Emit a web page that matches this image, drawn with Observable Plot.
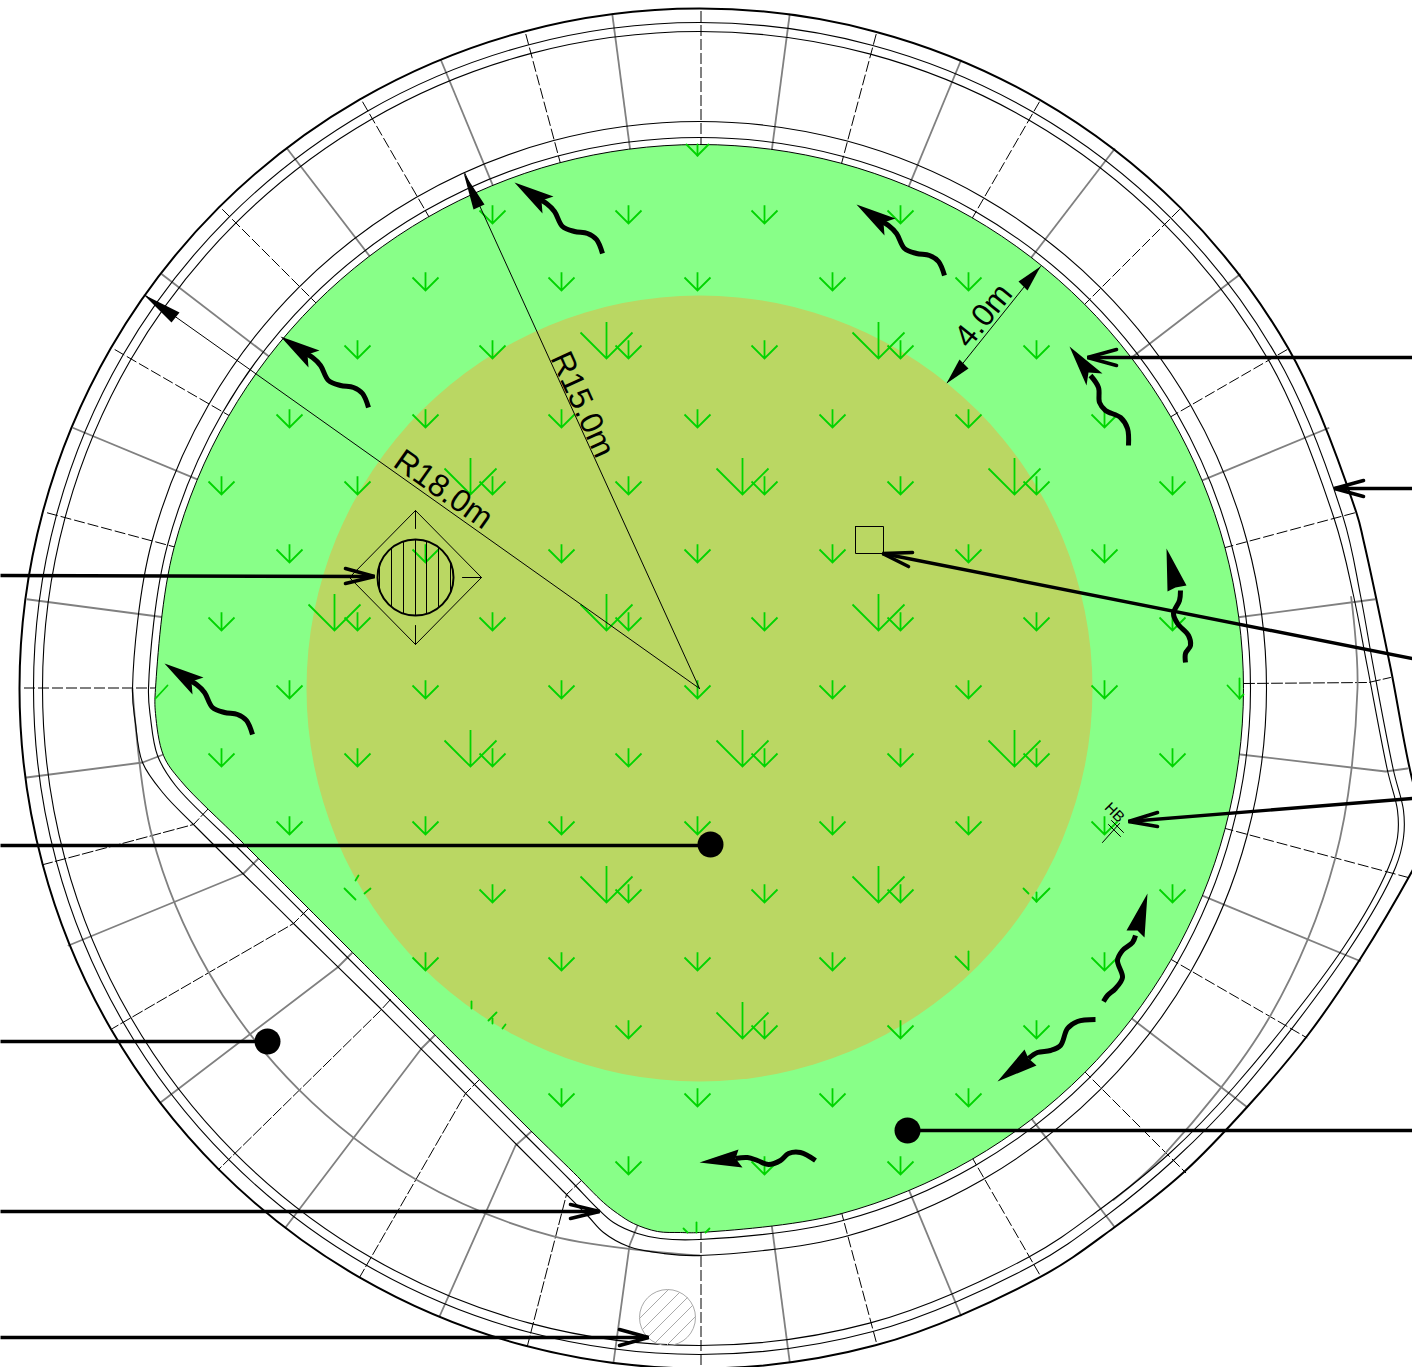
<!DOCTYPE html>
<html>
<head>
<meta charset="utf-8">
<script src="https://cdn.jsdelivr.net/npm/d3@7"></script>
<script src="https://cdn.jsdelivr.net/npm/@observablehq/plot@0.6"></script>
<style>html,body{margin:0;padding:0;background:#fff;overflow:hidden}svg{display:block}</style>
</head>
<body>
<div id="chart"></div>
<script>
// Plan centre, in sheet units
const centre = [699, 688];
const spokeCentre = [700.5, 687.5];

// Bearings (degrees clockwise from east) and radii of the rings
const fullTurn = [90,75,60,45,30,15,0,-15,-30,-45,-60,-75,-90,-105,-120,-135,-150,-165,-180];
const outerTurn = [52.5,60,75,90,105,120,135,150,165,180,195,210,225,240,255,270,285,300,315,330,345];
const grayLeftTurn = [180,165,150,135,120,105,90];
const grayRightTurn = [-8,0,15,30,45,51];
const radiusGreen = 544, radiusOlive = 393, radiusRingA = 551, radiusRingB = 567;
const radiusWallA = 657, radiusWallB = 666, radiusOuter = 680, radiusGrayRight = 658, radiusSpokeStart = 540;

// Lower-left chamfer and right-hand bulge, read from the plan
const greenChamfer = [[155,713],[163,755],[180,780],[243,843],[352,952],[397,997],[530,1130],[573,1172],[603,1202],[617,1213],[633,1223],[657,1231],[680,1232]];
const ringAChamfer = [[150,717],[157,755],[175,785],[238,848],[347,957],[392,1002],[525,1135],[570,1180],[598,1209],[613,1222],[637,1233],[660,1238]];
const ringBChamfer = [[135,723],[142,762],[163,793],[193,824],[293,923],[380,1008],[517,1145],[560,1188],[587,1215],[603,1232],[628,1246],[663,1253]];
const outerBulge = [[1363,540],[1390,667],[1412,780],[1430,835],[1412,870],[1360,958],[1307,1035],[1248,1105],[1183,1172]];
const wallABulge = [[1353,595],[1367,667],[1387,770],[1397,810],[1397,837],[1388,867],[1343,947],[1233,1087],[1170,1152]];
const wallBBulge = [[1360,595],[1373,667],[1393,770],[1403,810],[1403,837],[1395,867],[1348,950],[1237,1095],[1175,1158]];

// Spokes: bearing and outer radius; inner end under the green edge
const solidBearings = [187.5,202.5,217.5,232.5,247.5,262.5,277.5,292.5,307.5,322.5,337.5,352.5,82.5,67.5,52.5,37.5,22.5];
const solidOuters =   [680,680,680,680,680,680,680,680,680,680,680,680,680,680,680,689,714];
const dashedBearings = [180,195,210,225,240,255,270,285,300,315,330,345,90,75,60,45,30,15];
const dashedOuters =   [680,680,680,680,680,680,680,680,680,680,680,680,680,680,680,686,700,733];
const solidBent = [
  [[1240,754],[1385,771],[1407,768]],
  [[637,1225],[629,1245],[613,1362]],
  [[532,1130],[515,1145],[439,1316]],
  [[436,1033],[421,1048],[285,1227]],
  [[352,952],[337,967],[160,1102]],
  [[258,858],[243,873],[68,945]],
  [[163,754],[142,762],[26,777]]
];
const dashedBent = [
  [[1243,683],[1368,682],[1390,677]],
  [[582,1179],[566,1194],[527,1345]],
  [[480,1078],[465,1093],[359,1277]],
  [[390,999],[380,1010],[218,1169]],
  [[308,908],[293,923],[112,1028]],
  [[208,808],[193,824],[43,864]]
];

// Planting marks: tips of the small and large sprouts
const smallRows = [
  [223,[492,628,764,900]],
  [290,[425,561,697,832,968]],
  [358,[357,492,628,764,900,1036]],
  [427,[289,425,561,697,832,968,1104]],
  [494,[221,357,492,628,764,900,1036,1172]],
  [562,[289,425,561,697,832,968,1104]],
  [630,[221,357,492,628,764,900,1036,1172]],
  [698,[289,425,561,697,832,968,1104]],
  [766,[221,357,492,628,764,900,1036,1172]],
  [834,[289,425,561,697,832,968,1104]],
  [902,[492,628,764,900,1172]],
  [970,[425,561,697,832,1104]],
  [1038,[628,764,900,1036]],
  [1106,[561,697,832,968]],
  [1174,[628,764,900]]
];
const largeTips = [[606,358],[878,358],[470,494],[742,494],[1014,494],[334,630],[606,630],[878,630],[470,766],[742,766],[1014,766],[606,902],[878,902],[742,1038]];
const sproutPieces = [
  [[697,144],[697,155]],[[686,144],[697,155]],[[708,144],[697,155]],
  [[155,698],[167,685]],
  [[1239,678],[1239,698]],[[1227,685],[1239,698]],[[1239,698],[1243,694]],
  [[696,1222],[696,1232]],[[683,1228],[687,1232]],[[709,1228],[705,1232]],
  [[358,875],[355,880]],[[344,888],[355,899]],[[370,888],[364,893]],
  [[471,1001],[471,1008]],[[496,1012],[488,1020]],[[492,1018],[492,1023]],[[505,1024],[502,1028]],
  [[1036,892],[1036,901]],[[1049,888],[1036,901]],[[1023,888],[1028,893]],[[1032,897],[1036,901]],
  [[968,951],[968,969]],[[955,956],[968,969]]
];

// Flow arrows: shaft and head
const flowShafts = [
  [[368,407],[362,393],[353,387],[340,385],[328,380],[320,365],[312,357],[303,352]],
  [[602,253],[596,239],[587,233],[574,231],[562,226],[554,211],[546,203],[537,198]],
  [[944,275],[938,261],[929,255],[916,253],[904,248],[896,233],[888,225],[879,220]],
  [[252,734],[246,720],[237,714],[224,712],[212,707],[204,692],[196,684],[187,679]],
  [[1128,445],[1127,428],[1120,417],[1105,410],[1099,402],[1098,387],[1090,375]],
  [[1185,662],[1185,653],[1190,645],[1188,635],[1177,623],[1173,613],[1179,600],[1180,590]],
  [[1103,1001],[1107,995],[1115,988],[1122,977],[1117,960],[1122,950],[1132,942],[1135,935]],
  [[1095,1019],[1077,1021],[1067,1028],[1060,1045],[1050,1050],[1037,1052],[1028,1058]],
  [[815,1160],[800,1152],[788,1153],[780,1160],[768,1164],[757,1160],[747,1157],[735,1158]]
];
const flowHeads = [
  [[280,336],[319,350],[307,354],[308,367]],
  [[514,182],[553,196],[541,200],[542,213]],
  [[856,204],[895,218],[883,222],[884,235]],
  [[164,663],[203,677],[191,681],[192,694]],
  [[1069,346],[1102,373],[1088,372],[1086,385]],
  [[1166,548],[1186,585],[1175,587],[1167,591]],
  [[1147,893],[1126,930],[1137,930],[1144,937]],
  [[997,1081],[1024,1049],[1028,1058],[1036,1065]],
  [[699,1162],[738,1149],[735,1158],[742,1167]]
];

// Leaders
const leaders = [
  [[1412,357],[1087,357]],
  [[1412,488],[1334,488]],
  [[1412,658],[882,553]],
  [[1412,798],[1128,821]],
  [[1412,1130],[907,1130]],
  [[0,575],[374,576]],
  [[0,845],[710,845]],
  [[0,1041],[267,1041]],
  [[0,1211],[599,1211]],
  [[0,1337],[648,1337]]
];
const leaderHeads = [
  [[1116,349],[1087,357],[1116,365]],
  [[1363,480],[1334,488],[1363,496]],
  [[912,552],[882,553],[908,566]],
  [[1157,812],[1128,821],[1157,826]],
  [[345,568],[374,576],[345,583]],
  [[570,1204],[599,1211],[570,1218]],
  [[619,1329],[648,1337],[619,1345]]
];
const leaderDots = [[907,1130],[710,844],[267,1041]];

// Dimension lines and their heads
const dimensionLines = [
  [[699,688],[145,295]],
  [[699,688],[464,172]],
  [[947,382],[1040,266]]
];
const dimensionHeads = [
  [[143,294],[179,312],[171,322]],
  [[463,172],[484,204],[473,209]],
  [[946,383],[959,359],[968,368]],
  [[1040,266],[1027,290],[1018,281]]
];
const labels = [
  {text:"R18.0m", at:[443,489], turn:35.3, size:32},
  {text:"R15.0m", at:[582,404], turn:65.5, size:32},
  {text:"4.0m", at:[983,315], turn:-51, size:32},
  {text:"HB", at:[1114,812], turn:45, size:15}
];

// Manhole symbol
const diamond = [[415,510],[481,577],[415,644],[349,577]];
const diamondTicks = [[[415,510],[415,528]],[[415,625],[415,644]],[[462,577],[481,577]],[[349,577],[368,577]]];
const manhole = [415,577];
const manholeHatch = [
  [[379,563],[379,591]],[[391,547],[391,606]],[[403,541],[403,613]],[[415,539],[415,615]],
  [[426,541],[426,613]],[[438,547],[438,606]],[[450,563],[450,591]]
];
// Square box
const boxCorners = [[855,526],[883,526],[883,553],[855,553]];
// Hatched tree pit
const pit = [667,1317];
const pitHatch = [
  [[639,1318],[668,1289]],[[642,1329],[679,1292]],[[647,1337],[687,1297]],[[655,1342],[692,1305]],[[666,1345],[695,1316]]
];
// HB valve
const valveLines = [[[1102,842],[1119,823]],[[1108,824],[1120,836]],[[1111,820],[1123,832]]];

const polarFrom = (c, deg, r) => [c[0] + r*Math.cos(deg*Math.PI/180), c[1] + r*Math.sin(deg*Math.PI/180)];
const polar = (deg, r) => polarFrom(centre, deg, r);
const spokePoint = (deg, r) => polarFrom(spokeCentre, deg, r);
const arc = (degs, r) => degs.map(d => polar(d, r));
const X = d => d[0], Y = d => d[1];
const rows = list => list.flatMap((pts, id) => pts.map(([x,y]) => ({x, y, id})));

// Sprout glyph: tip at the origin
const sprout = {draw(c, size){
  const s = Math.sqrt(size/Math.PI);
  c.moveTo(0,-1.4*s); c.lineTo(0,0);
  c.moveTo(-s,-s); c.lineTo(0,0); c.lineTo(s,-s);
}};

const smallTips = smallRows.flatMap(([y,xs]) => xs.map(x => [x,y]));

const INK = "#000", GRAY = "#808080", SPROUT = "#00d400";
const outline = (pts, o) => Plot.line(pts, {x:X, y:Y, curve:"catmull-rom", ...o});

const chart = Plot.plot({
  width:1412, height:1367, margin:0,
  x:{domain:[0,1412], range:[0,1412], axis:null},
  y:{domain:[0,1367], range:[0,1367], axis:null},
  style:{background:"#fff", fontFamily:"'Liberation Sans', Arial, sans-serif"},
  marks:[
    // spokes
    Plot.link(solidBearings, {x1:d=>spokePoint(d,radiusSpokeStart)[0], y1:d=>spokePoint(d,radiusSpokeStart)[1],
      x2:(d,i)=>spokePoint(d,solidOuters[i])[0], y2:(d,i)=>spokePoint(d,solidOuters[i])[1], stroke:GRAY, strokeWidth:1.8}),
    Plot.line(rows(solidBent), {x:"x", y:"y", z:"id", stroke:GRAY, strokeWidth:1.8}),
    Plot.link(dashedBearings, {x1:d=>spokePoint(d,radiusSpokeStart)[0], y1:d=>spokePoint(d,radiusSpokeStart)[1],
      x2:(d,i)=>spokePoint(d,dashedOuters[i])[0], y2:(d,i)=>spokePoint(d,dashedOuters[i])[1], stroke:INK, strokeWidth:1, strokeDasharray:"11 3"}),
    Plot.line(rows(dashedBent), {x:"x", y:"y", z:"id", stroke:INK, strokeWidth:1, strokeDasharray:"11 3"}),
    // gray construction arcs
    outline(arc(grayLeftTurn, radiusRingB), {stroke:GRAY, strokeWidth:1.8}),
    outline(arc(grayRightTurn, radiusGrayRight), {stroke:GRAY, strokeWidth:1.8}),
    // rings
    outline([...arc(fullTurn, radiusRingB), ...ringBChamfer], {stroke:INK, strokeWidth:1.1, curve:"catmull-rom-closed"}),
    outline([...arc(fullTurn, radiusRingA), ...ringAChamfer], {stroke:INK, strokeWidth:1.1, curve:"catmull-rom-closed"}),
    outline([...arc(outerTurn, radiusWallA), ...wallABulge], {stroke:INK, strokeWidth:1.1, curve:"catmull-rom-closed"}),
    outline([...arc(outerTurn, radiusWallB), ...wallBBulge], {stroke:INK, strokeWidth:1.1, curve:"catmull-rom-closed"}),
    outline([...arc(outerTurn, radiusOuter), ...outerBulge], {stroke:INK, strokeWidth:2, curve:"catmull-rom-closed"}),
    // lawn and inner bed
    outline([...arc(fullTurn, radiusGreen), ...greenChamfer], {fill:"#88ff88", stroke:INK, strokeWidth:1, curve:"catmull-rom-closed"}),
    Plot.dot([centre], {x:X, y:Y, r:radiusOlive, fill:"#bad763", stroke:"none"}),
    // sprouts
    Plot.dot(smallTips, {x:X, y:Y, r:13, symbol:sprout, fill:"none", stroke:SPROUT, strokeWidth:1.8}),
    Plot.dot(largeTips, {x:X, y:Y, r:26, symbol:sprout, fill:"none", stroke:SPROUT, strokeWidth:1.8}),
    Plot.line(rows(sproutPieces), {x:"x", y:"y", z:"id", stroke:SPROUT, strokeWidth:1.8}),
    // manhole
    Plot.line([...diamond, diamond[0]], {x:X, y:Y, stroke:INK, strokeWidth:1}),
    Plot.line(rows(diamondTicks), {x:"x", y:"y", z:"id", stroke:INK, strokeWidth:1}),
    Plot.line(rows(manholeHatch), {x:"x", y:"y", z:"id", stroke:INK, strokeWidth:1}),
    Plot.dot([manhole], {x:X, y:Y, r:38, fill:"none", stroke:INK, strokeWidth:2}),
    // box
    Plot.line([...boxCorners, boxCorners[0]], {x:X, y:Y, stroke:INK, strokeWidth:1}),
    // tree pit
    Plot.line(rows(pitHatch), {x:"x", y:"y", z:"id", stroke:"#aaa", strokeWidth:1}),
    Plot.dot([pit], {x:X, y:Y, r:28, fill:"none", stroke:"#aaa", strokeWidth:1}),
    // valve
    Plot.line(rows(valveLines), {x:"x", y:"y", z:"id", stroke:INK, strokeWidth:1}),
    // dimensions
    Plot.line(rows(dimensionLines), {x:"x", y:"y", z:"id", stroke:INK, strokeWidth:1}),
    Plot.line(rows(dimensionHeads), {x:"x", y:"y", z:"id", fill:INK, stroke:"none"}),
    Plot.text(labels, {x:d=>d.at[0], y:d=>d.at[1], text:"text", rotate:d=>d.turn, fontSize:d=>d.size, fill:INK}),
    // flow arrows
    Plot.line(rows(flowShafts), {x:"x", y:"y", z:"id", stroke:INK, strokeWidth:5, curve:"catmull-rom", strokeLinecap:"butt"}),
    Plot.line(rows(flowHeads), {x:"x", y:"y", z:"id", fill:INK, stroke:"none"}),
    // leaders
    Plot.line(rows(leaders), {x:"x", y:"y", z:"id", stroke:INK, strokeWidth:3.4, strokeLinecap:"butt"}),
    Plot.line(rows(leaderHeads), {x:"x", y:"y", z:"id", stroke:INK, strokeWidth:3.6, strokeLinecap:"round", strokeLinejoin:"miter"}),
    Plot.dot(leaderDots, {x:X, y:Y, r:13, fill:INK, stroke:"none"})
  ]
});
document.getElementById("chart").append(chart);
</script>
</body>
</html>
